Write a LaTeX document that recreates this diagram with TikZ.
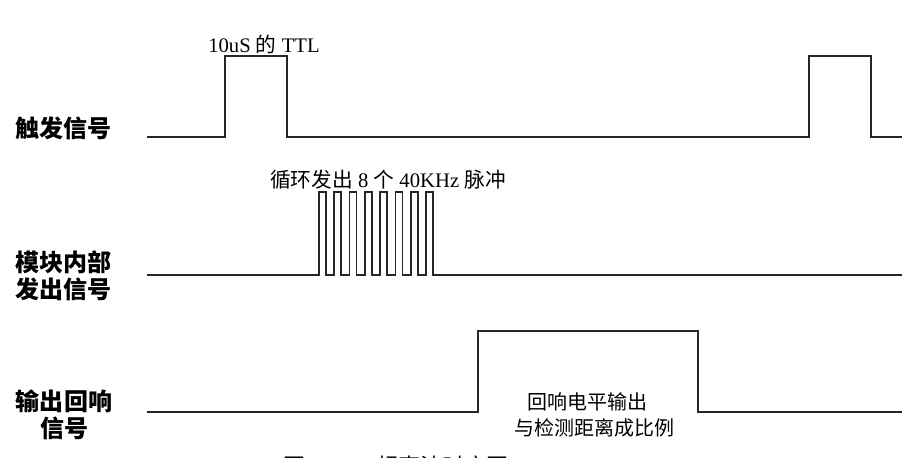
\documentclass[tikz,border=0pt]{standalone}
\usepackage{fontspec}
\setmainfont{Liberation Serif}
\newfontfamily\cjk{Noto Sans CJK SC}
\tikzset{
  wave/.style={line width=1.3pt, line join=miter, draw=black!85},
  sidelab/.style={font=\cjk\bfseries\fontsize{18}{20.5}\selectfont, inner sep=0pt, align=center},
  toplab/.style={font=\fontsize{15.5}{17}\selectfont, inner sep=0pt},
  boxlab/.style={font=\cjk\fontsize{15}{19}\selectfont, inner sep=0pt},
  caplab/.style={font=\cjk\fontsize{16.5}{19}\selectfont, inner sep=0pt, anchor=west}
}
\begin{document}
\begin{tikzpicture}[x=0.75pt, y=-0.75pt]
\useasboundingbox (0,0) rectangle (913,457);
\clip (0,0) rectangle (913,457);
\fill[white] (0,0) rectangle (913,457);

% trigger signal
\draw[wave] (147,137) -- (225,137) -- (225,56) -- (287,56) -- (287,137)
  -- (809,137) -- (809,56) -- (871,56) -- (871,137) -- (902,137);
% internal burst
\draw[wave] (147,275) foreach \i in {0,...,7} {
   -- ({319+15.3*\i},275) -- ({319+15.3*\i},192) -- ({326+15.3*\i},192) -- ({326+15.3*\i},275) }
  -- (902,275);
% echo output
\draw[wave] (147,412) -- (478,412) -- (478,331) -- (698,331) -- (698,412) -- (902,412);

% side labels
\node[sidelab, anchor=west] (trig) at (15,128) {触发信号};
\node[sidelab, anchor=west] (mod) at (15,276) {模块内部\\发出信号};
\node[sidelab] (echo) at (64,415) {输出回响\\信号};

% annotations
\node[toplab] (ttl) at (264,44) {10uS {\cjk 的} TTL};
\node[toplab] (burst) at (388,180) {{\cjk 循环发出} 8 {\cjk 个} 40KHz {\cjk 脉冲}};
\node[boxlab] (e1) at (587,402) {回响电平输出};
\node[boxlab] (e2) at (594,428) {与检测距离成比例};

% caption (cut off at the lower edge, as in the reference)
\node[caplab] (cap) at (283,466) {图\hspace{22pt}1\hspace{22pt}超声波时序图};
\end{tikzpicture}
\end{document}
